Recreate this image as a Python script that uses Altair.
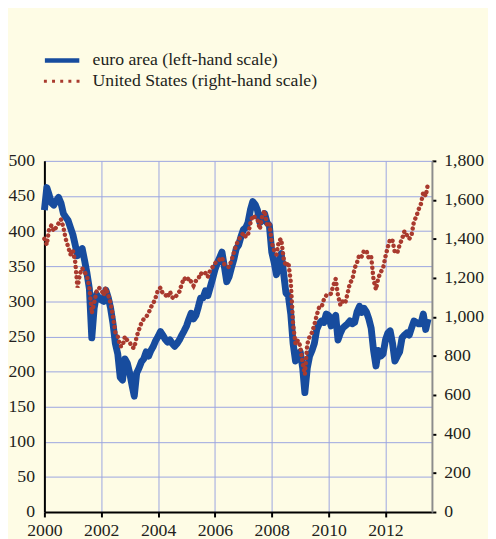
import altair as alt
import pandas as pd

# Monthly observations, Jan 2000 .. Jul 2013
dates = pd.date_range("2000-01-01", "2013-07-01", freq="MS").strftime("%Y-%m-%d").tolist()

euro_area = [
    430, 462, 452, 440, 437, 443, 448, 440, 425, 420, 415, 405,   # 2000
    395, 380, 365, 372, 375, 358, 340, 318, 248, 290, 310, 305,   # 2001
    302, 300, 316, 305, 290, 268, 240, 225, 192, 188, 218, 212,   # 2002
    198, 180, 165, 198, 205, 214, 218, 228, 222, 230, 236, 244,   # 2003
    250, 257, 252, 246, 242, 245, 240, 236, 240, 245, 252, 258,   # 2004
    265, 275, 283, 275, 280, 292, 305, 305, 315, 308, 320, 332,   # 2005
    345, 355, 362, 370, 350, 328, 335, 348, 360, 375, 380, 392,   # 2006
    402, 405, 412, 430, 442, 438, 430, 412, 415, 425, 412, 408,   # 2007
    370, 355, 338, 355, 368, 340, 312, 308, 282, 240, 215, 225,   # 2008
    228, 205, 170, 205, 222, 230, 240, 260, 268, 272, 270, 282,   # 2009
    280, 265, 275, 280, 245, 255, 262, 265, 268, 272, 268, 270,   # 2010
    285, 293, 284, 290, 285, 275, 262, 230, 208, 230, 222, 225,   # 2011
    245, 255, 258, 240, 215, 222, 228, 248, 252, 255, 252, 262,   # 2012
    272, 270, 268, 268, 282, 260, 275,                            # 2013
]

united_states = [
    1400, 1370, 1450, 1470, 1440, 1460, 1480, 1500, 1460, 1400, 1360, 1320,   # 2000
    1340, 1280, 1150, 1220, 1250, 1230, 1210, 1150, 1020, 1070, 1130, 1150,   # 2001
    1140, 1110, 1150, 1110, 1070, 1000, 920, 900, 850, 850, 900, 880,         # 2002
    870, 845, 840, 900, 935, 970, 990, 1000, 1020, 1050, 1070, 1100,          # 2003
    1140, 1150, 1120, 1115, 1100, 1130, 1100, 1095, 1115, 1130, 1170, 1200,   # 2004
    1185, 1200, 1180, 1160, 1185, 1195, 1225, 1215, 1225, 1205, 1240, 1255,   # 2005
    1275, 1285, 1295, 1305, 1270, 1260, 1255, 1290, 1330, 1370, 1395, 1415,   # 2006
    1430, 1410, 1420, 1480, 1520, 1510, 1500, 1450, 1520, 1545, 1470, 1480,   # 2007
    1380, 1340, 1320, 1390, 1400, 1300, 1260, 1280, 1180, 960, 860, 880,      # 2008
    850, 760, 705, 860, 900, 920, 960, 1010, 1050, 1050, 1090, 1110,          # 2009
    1110, 1120, 1160, 1195, 1110, 1060, 1080, 1070, 1120, 1175, 1190, 1250,   # 2010
    1280, 1320, 1310, 1340, 1340, 1300, 1310, 1190, 1140, 1200, 1230, 1250,   # 2011
    1310, 1360, 1400, 1390, 1330, 1330, 1370, 1400, 1440, 1420, 1400, 1420,   # 2012
    1490, 1515, 1550, 1580, 1640, 1620, 1685,                                 # 2013
]

series_names = ["euro area (left-hand scale)", "United States (right-hand scale)"]
left_ticks = list(range(0, 501, 50))
right_ticks = list(range(0, 1801, 200))
year_ticks = list(range(2000, 2013, 2))

BLUE = "#174C9E"
RED = "#A93A2E"
GRID = "#9AA4E0"
BG = "#FEFCE5"
TEXT = "#231F20"
FONT = "Liberation Serif"

euro_df = pd.DataFrame({"date": dates, "value": euro_area, "series": series_names[0]})
us_df = pd.DataFrame({"date": dates, "value": united_states, "series": series_names[1]})

x_enc = alt.X(
    "date:T",
    title=None,
    scale=alt.Scale(domain=[alt.DateTime(year=2000, month=1, date=1),
                            alt.DateTime(year=2013, month=8, date=20)]),
    axis=alt.Axis(
        values=[alt.DateTime(year=y, month=1, date=1) for y in year_ticks],
        format="%Y", grid=True, gridColor=GRID, gridWidth=1,
        domainColor="black", domainWidth=2, tickColor="black", tickWidth=2,
        tickSize=5, labelPadding=5, labelFont=FONT, labelFontSize=18,
        labelColor=TEXT, labelFlush=False,
    ),
)

euro = alt.Chart(euro_df).mark_line(strokeWidth=7, strokeJoin="round").encode(
    x=x_enc,
    y=alt.Y("value:Q", title=None,
            scale=alt.Scale(domain=[0, 500], nice=False, zero=True),
            axis=alt.Axis(values=left_ticks, grid=True, gridColor=GRID, gridWidth=1,
                          domainColor="black", domainWidth=2, ticks=False,
                          labelPadding=10, labelFont=FONT, labelFontSize=18,
                          labelColor=TEXT)),
    color=alt.Color("series:N",
                    scale=alt.Scale(domain=[series_names[0]], range=[BLUE]),
                    legend=alt.Legend(orient="none", legendX=-2, legendY=-122,
                                      title=None, symbolType="stroke",
                                      symbolSize=1225, symbolStrokeWidth=4.5,
                                      labelFont=FONT, labelFontSize=18,
                                      labelColor=TEXT, labelOffset=11,
                                      labelLimit=400, padding=0)),
)

us = alt.Chart(us_df).mark_line(strokeWidth=4.5, strokeCap="round",
                                strokeDash=[0.1, 5.2]).encode(
    x=x_enc,
    y=alt.Y("value:Q", title=None,
            scale=alt.Scale(domain=[0, 1800], nice=False, zero=True),
            axis=alt.Axis(orient="right", values=right_ticks, format=",.0f", grid=False,
                          domainColor="#8C8C8C", domainWidth=2, tickColor="black",
                          tickWidth=2, tickSize=4, labelPadding=8,
                          labelFont=FONT, labelFontSize=18, labelColor=TEXT)),
    color=alt.Color("series:N",
                    scale=alt.Scale(domain=[series_names[1]], range=[RED]),
                    legend=alt.Legend(orient="none", legendX=-2, legendY=-101,
                                      title=None, symbolType="stroke",
                                      symbolSize=1369, symbolStrokeWidth=3,
                                      symbolDash=[3, 5.3],
                                      labelFont=FONT, labelFontSize=18,
                                      labelColor=TEXT, labelOffset=11,
                                      labelLimit=400, padding=0)),
)

chart = (
    alt.layer(euro, us)
    .resolve_scale(y="independent", color="independent")
    .properties(
        width=394, height=357,
        autosize=alt.AutoSizeParams(type="none"),
        padding={"left": 37, "top": 151, "right": 57, "bottom": 23},
        background=BG,
    )
    .configure_view(stroke=None)
)

chart.save("out.html", embed_options={"renderer": "svg", "actions": False})
